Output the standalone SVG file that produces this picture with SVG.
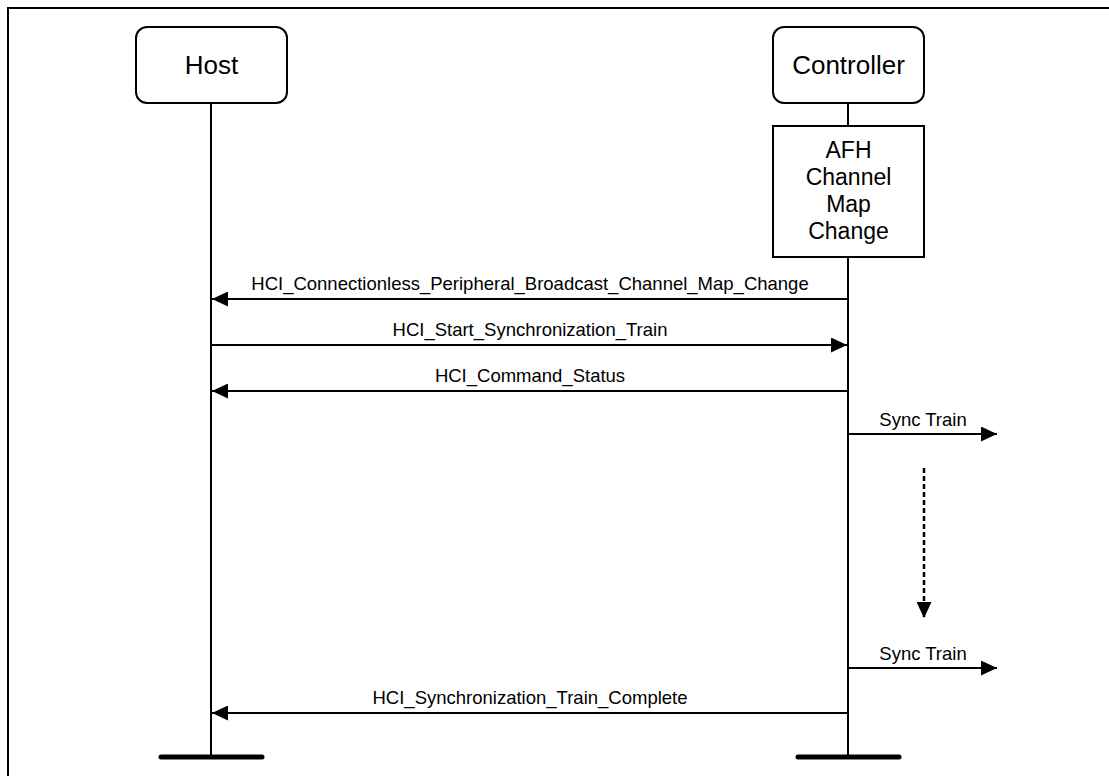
<svg xmlns="http://www.w3.org/2000/svg" width="1109" height="776" viewBox="0 0 1109 776">
<style>
text{font-family:"Liberation Sans",Arial,Helvetica,sans-serif;fill:#000}
.box{fill:#fff;stroke:#000;stroke-width:2}
.big{font-size:26px;text-anchor:middle}
.afh{font-size:23px;text-anchor:middle}
.lbl{font-size:18.5px;text-anchor:middle}
.life{stroke:#000;stroke-width:2;fill:none}
.msg{stroke:#000;stroke-width:2;fill:none;marker-end:url(#ah)}
.end{stroke:#000;stroke-width:5;stroke-linecap:round}
</style>
<defs>
<marker id="ah" markerWidth="16" markerHeight="15" refX="16" refY="7.5" orient="auto" markerUnits="userSpaceOnUse">
<path d="M0,0 L16,7.5 L0,15 Z" fill="#000"/>
</marker>
</defs>
<rect width="1109" height="776" fill="#fff"/>
<path d="M8,776 V8 H1109" fill="none" stroke="#000" stroke-width="2"/>
<g id="lifelines">
<line class="life" x1="211" y1="103" x2="211" y2="757"/>
<line class="life" x1="848" y1="103" x2="848" y2="126"/>
<line class="life" x1="848" y1="257" x2="848" y2="757"/>
<line class="end" x1="161" y1="757" x2="262" y2="757"/>
<line class="end" x1="798" y1="757" x2="899" y2="757"/>
</g>
<g id="host">
<rect class="box" x="136" y="27" width="151" height="76" rx="11"/>
<text class="big" x="211.5" y="74">Host</text>
</g>
<g id="controller">
<rect class="box" x="773" y="27" width="151" height="76" rx="11"/>
<text class="big" x="848.5" y="74">Controller</text>
</g>
<g id="afh">
<rect class="box" x="773" y="126" width="151" height="131"/>
<text class="afh" x="848.5" y="158">AFH</text>
<text class="afh" x="848.5" y="185">Channel</text>
<text class="afh" x="848.5" y="212">Map</text>
<text class="afh" x="848.5" y="239">Change</text>
</g>
<g id="connectors">
<line class="msg" x1="848" y1="299" x2="212" y2="299"/>
<text class="lbl" x="530" y="290">HCI_Connectionless_Peripheral_Broadcast_Channel_Map_Change</text>
<line class="msg" x1="211" y1="345" x2="847" y2="345"/>
<text class="lbl" x="530" y="336">HCI_Start_Synchronization_Train</text>
<line class="msg" x1="848" y1="391" x2="212" y2="391"/>
<text class="lbl" x="530" y="382">HCI_Command_Status</text>
<line class="msg" x1="848" y1="434" x2="997" y2="434"/>
<text class="lbl" x="923" y="426">Sync Train</text>
<line x1="924" y1="468" x2="924" y2="618" stroke="#000" stroke-width="2.5" stroke-dasharray="5,3" marker-end="url(#ah)"/>
<line class="msg" x1="848" y1="668" x2="997" y2="668"/>
<text class="lbl" x="923" y="660">Sync Train</text>
<line class="msg" x1="848" y1="713" x2="212" y2="713"/>
<text class="lbl" x="530" y="704">HCI_Synchronization_Train_Complete</text>
</g>
</svg>
